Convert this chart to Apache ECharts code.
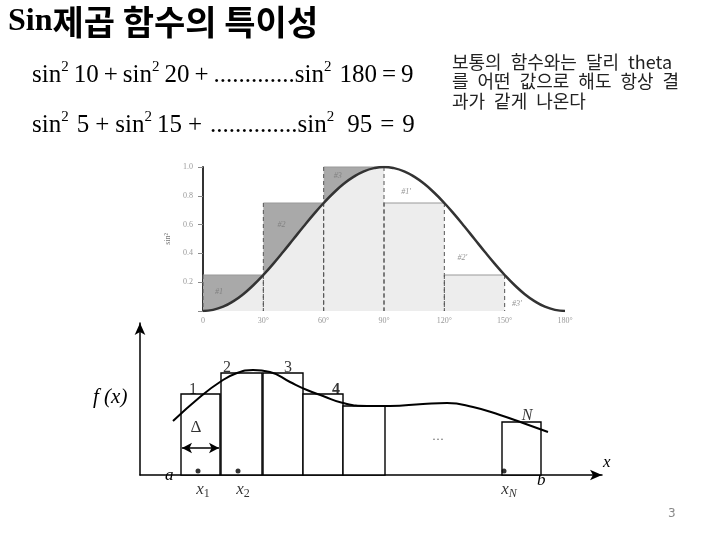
<!DOCTYPE html>
<html>
<head>
<meta charset="utf-8">
<script src="https://cdn.jsdelivr.net/npm/echarts@6/dist/echarts.min.js"></script>
<style>
  html, body { margin: 0; padding: 0; background: #fff; }
  #chart { width: 720px; height: 540px; }
</style>
</head>
<body>
<div id="chart"></div>
<script>
// ---- top picture: sin^2(theta) with rectangles ----
const thetaDeg = [0, 5, 10, 15, 20, 25, 30, 35, 40, 45, 50, 55, 60, 65, 70, 75, 80, 85, 90,
  95, 100, 105, 110, 115, 120, 125, 130, 135, 140, 145, 150, 155, 160, 165, 170, 175, 180]
const sinSq = [0, 0.008, 0.03, 0.067, 0.117, 0.179, 0.25, 0.329, 0.413, 0.5, 0.587, 0.671, 0.75,
  0.821, 0.883, 0.933, 0.97, 0.992, 1, 0.992, 0.97, 0.933, 0.883, 0.821, 0.75, 0.671, 0.587,
  0.5, 0.413, 0.329, 0.25, 0.179, 0.117, 0.067, 0.03, 0.008, 0]
const leftRectStart = [0, 30, 60]
const leftRectEnd = [30, 60, 90]
const leftRectHeight = [0.25, 0.75, 1.0]
const rightRectStart = [90, 120]
const rightRectEnd = [120, 150]
const rightRectHeight = [0.75, 0.25]
const angleTickLabels = ['0', '30°', '60°', '90°', '120°', '150°', '180°']
const valueTickLabels = ['', '0.2', '0.4', '0.6', '0.8', '1.0']
const shadeNames = ['#1', '#2', '#3', "#1'", "#2'", "#3'"]
const shadeX = [8, 39, 67, 101, 129, 156]
const shadeY = [0.13, 0.6, 0.94, 0.83, 0.37, 0.05]

// ---- bottom picture: f(x) with N rectangles ----
const barStart = [4.1, 8.1, 12.3, 16.3, 20.3, 36.2]
const barEnd = [8.0, 12.2, 16.3, 20.3, 24.5, 40.1]
const barHeight = [8.1, 10.2, 10.2, 8.1, 6.9, 5.3]
const curveX = [3.3, 6.0, 8.0, 9.7, 11.3, 13.0, 15.0, 16.7, 18.3, 20.3, 22.7, 25.0, 28.3, 30.7, 33.3, 36.0, 38.3, 40.8]
const curveY = [5.4, 7.8, 9.3, 10.2, 10.5, 10.3, 9.3, 8.5, 7.9, 7.2, 6.9, 6.9, 7.1, 7.2, 6.8, 6.0, 5.2, 4.3]
const barNames = ['1', '2', '3', '4', 'N']
const barNameX = [5.3, 8.7, 14.8, 19.6, 38.7]
const barNameY = [8.5, 10.7, 10.7, 8.5, 5.9]
const sampleNames = ['1', '2', 'N']
const sampleX = [5.8, 9.8, 36.4]
const sampleY = 0.4

const serif = 'Liberation Serif'
const kr = 'Noto Sans CJK KR'
const sp = '\u2002'  // wide space, like the slide's Korean font

function rectFill(fill) {
  return function(params, api) {
    const p0 = api.coord([api.value(0), api.value(2)])
    const p1 = api.coord([api.value(1), 0])
    return {
      type: 'rect',
      shape: { x: p0[0], y: p0[1], width: p1[0] - p0[0], height: p1[1] - p0[1] },
      style: { fill: fill }
    }
  }
}

function rectEdges(params, api) {
  const p0 = api.coord([api.value(0), api.value(2)])
  const p1 = api.coord([api.value(1), 0])
  const dash = { stroke: '#555', lineWidth: 1, lineDash: [4, 3] }
  return {
    type: 'group',
    children: [
      { type: 'line', shape: { x1: p0[0], y1: p0[1], x2: p1[0], y2: p0[1] }, style: { stroke: '#999', lineWidth: 1 } },
      { type: 'line', shape: { x1: p0[0], y1: p0[1], x2: p0[0], y2: p1[1] }, style: dash },
      { type: 'line', shape: { x1: p1[0], y1: p0[1], x2: p1[0], y2: p1[1] }, style: dash }
    ]
  }
}

function barItem(params, api) {
  const p0 = api.coord([api.value(0), api.value(2)])
  const p1 = api.coord([api.value(1), 0])
  return {
    type: 'rect',
    shape: { x: p0[0], y: p0[1], width: p1[0] - p0[0], height: p1[1] - p0[1] },
    style: { fill: '#fff', stroke: '#000', lineWidth: 1.4 }
  }
}

const eqBase = { fontFamily: serif, fontSize: 25, lineHeight: 30, color: '#000' }
function eqPad(l, r) {
  return Object.assign({}, eqBase, { padding: [0, r, 0, l] })
}
const eqRich = {
  t: eqBase,
  s: { fontFamily: serif, fontSize: 15, lineHeight: 16, color: '#000', verticalAlign: 'top' },
  n: eqPad(5, 0),
  w: eqPad(8, 0),
  v: eqPad(13, 0),
  p: eqPad(5, 5),
  q: eqPad(6, 6),
  r: eqPad(8, 8),
  d: eqPad(0, 0),
  e: eqPad(2, 0)
}
const subRich = {
  x: { fontFamily: serif, fontStyle: 'italic', fontSize: 17, lineHeight: 20, color: '#000' },
  s: { fontFamily: serif, fontSize: 12, lineHeight: 12, color: '#000', verticalAlign: 'bottom' },
  i: { fontFamily: serif, fontStyle: 'italic', fontSize: 12, lineHeight: 12, color: '#000', verticalAlign: 'bottom' }
}

const chart = echarts.init(document.getElementById('chart'))
chart.setOption({
  animation: false,
  backgroundColor: '#fff',
  grid: [
    { left: 203, top: 167, width: 362, height: 144 },
    { left: 140, top: 323, width: 462, height: 152 }
  ],
  xAxis: [
    {
      gridIndex: 0, type: 'value', min: 0, max: 180, interval: 30,
      axisLine: { show: false }, axisTick: { show: false }, splitLine: { show: false },
      axisLabel: { color: '#999', fontSize: 8, fontFamily: serif, margin: 6,
        formatter: v => angleTickLabels[Math.round(v / 30)] }
    },
    {
      gridIndex: 1, type: 'value', min: 0, max: 46.2,
      axisLine: { show: true, onZero: true, symbol: ['none', 'arrow'], symbolSize: [8, 12],
        lineStyle: { color: '#000', width: 1.5 } },
      axisTick: { show: false }, axisLabel: { show: false }, splitLine: { show: false }
    }
  ],
  yAxis: [
    {
      gridIndex: 0, type: 'value', min: 0, max: 1, interval: 0.2,
      name: 'sin²', nameLocation: 'middle', nameGap: 26, nameRotate: 90,
      nameTextStyle: { color: '#777', fontSize: 8, fontFamily: serif },
      axisLine: { show: true, lineStyle: { color: '#333', width: 2 } },
      axisTick: { show: true, length: 5, lineStyle: { color: '#888' } },
      splitLine: { show: false },
      axisLabel: { color: '#999', fontSize: 8, fontFamily: serif, margin: 10,
        formatter: v => valueTickLabels[Math.round(v / 0.2)] }
    },
    {
      gridIndex: 1, type: 'value', min: 0, max: 15.2,
      axisLine: { show: true, symbol: ['none', 'arrow'], symbolSize: [8, 12],
        lineStyle: { color: '#000', width: 1.5 } },
      axisTick: { show: false }, axisLabel: { show: false }, splitLine: { show: false }
    }
  ],
  series: [
    // dark shaded rectangles (left half)
    {
      type: 'custom', xAxisIndex: 0, yAxisIndex: 0, z: 1, silent: true,
      renderItem: rectFill('#a9a9a9'),
      data: leftRectStart.map((s, i) => [s, leftRectEnd[i], leftRectHeight[i]])
    },
    // light rectangles (right half)
    {
      type: 'custom', xAxisIndex: 0, yAxisIndex: 0, z: 1, silent: true,
      renderItem: rectFill('#ededed'),
      data: rightRectStart.map((s, i) => [s, rightRectEnd[i], rightRectHeight[i]])
    },
    // light area under the curve, 0..90
    {
      type: 'line', xAxisIndex: 0, yAxisIndex: 0, z: 2, silent: true,
      smooth: true, showSymbol: false, lineStyle: { width: 0 },
      areaStyle: { color: '#ededed', opacity: 1 },
      data: thetaDeg.slice(0, 19).map((t, i) => [t, sinSq[i]])
    },
    // rectangle edges
    {
      type: 'custom', xAxisIndex: 0, yAxisIndex: 0, z: 3, silent: true,
      renderItem: rectEdges,
      data: leftRectStart.concat(rightRectStart).map((s, i) =>
        [s, leftRectEnd.concat(rightRectEnd)[i], leftRectHeight.concat(rightRectHeight)[i]])
    },
    // sin^2 curve
    {
      type: 'line', xAxisIndex: 0, yAxisIndex: 0, z: 4, silent: true,
      smooth: true, showSymbol: false,
      lineStyle: { color: '#333', width: 2.5 },
      data: thetaDeg.map((t, i) => [t, sinSq[i]])
    },
    // shaded region labels
    {
      type: 'scatter', xAxisIndex: 0, yAxisIndex: 0, z: 5, symbolSize: 0, silent: true,
      label: { show: true, position: 'inside', formatter: '{b}', color: '#777',
        fontSize: 8, fontStyle: 'italic', fontFamily: serif },
      data: shadeNames.map((n, i) => ({ name: n, value: [shadeX[i], shadeY[i]] }))
    },
    // bottom rectangles
    {
      type: 'custom', xAxisIndex: 1, yAxisIndex: 1, z: 2, silent: true,
      renderItem: barItem,
      data: barStart.map((s, i) => [s, barEnd[i], barHeight[i]])
    },
    // f(x) curve
    {
      type: 'line', xAxisIndex: 1, yAxisIndex: 1, z: 4, silent: true,
      smooth: true, showSymbol: false,
      lineStyle: { color: '#000', width: 2 },
      data: curveX.map((x, i) => [x, curveY[i]]),
      markLine: {
        silent: true, symbol: ['arrow', 'arrow'], symbolSize: [8, 10],
        label: { show: false },
        lineStyle: { color: '#000', width: 1.5, type: 'solid' },
        data: [[{ coord: [4.2, 2.7] }, { coord: [7.9, 2.7] }]]
      }
    },
    // bar numbers
    {
      type: 'scatter', xAxisIndex: 1, yAxisIndex: 1, z: 5, symbolSize: 0, silent: true,
      label: { show: true, position: 'inside', formatter: '{b}', color: '#000',
        fontSize: 16, fontFamily: serif },
      data: barNames.map((n, i) => ({
        name: n, value: [barNameX[i], barNameY[i]],
        label: n === '4' ? { fontWeight: 'bold' } : (n === 'N' ? { fontStyle: 'italic' } : {})
      })).concat([
        { name: 'Δ', value: [5.6, 4.7], label: { fontSize: 17 } },
        { name: '···', value: [29.8, 3.5], label: { fontSize: 12, color: '#333' } }
      ])
    },
    // sample points x1, x2, xN
    {
      type: 'scatter', xAxisIndex: 1, yAxisIndex: 1, z: 5, symbolSize: 5, silent: true,
      itemStyle: { color: '#000' },
      label: { show: true, position: 'bottom', distance: 6, offset: [5, 0],
        formatter: p => '{x|x}{' + (p.name === 'N' ? 'i' : 's') + '|' + p.name + '}', rich: subRich },
      data: sampleNames.map((n, i) => ({ name: n, value: [sampleX[i], sampleY] }))
    }
  ],
  graphic: [
    {
      type: 'text', x: 8, y: 22,
      style: {
        text: '{a|Sin}{b|제곱 함수의 특이성}', verticalAlign: 'middle',
        rich: {
          a: { fontFamily: serif, fontWeight: 'bold', fontSize: 32, fill: '#000' },
          b: { fontFamily: kr, fontWeight: 'bold', fontSize: 34, fill: '#000' }
        }
      }
    },
    {
      type: 'text', x: 32, y: 75,
      style: {
        text: '{t|sin}{s|2}{n|10}{p|+}{t|sin}{s|2}{n|20}{p|+}{d|.............}{t|sin}{s|2}{w|180}{p|=}{t|9}',
        verticalAlign: 'middle', rich: eqRich
      }
    },
    {
      type: 'text', x: 32, y: 125,
      style: {
        text: '{t|sin}{s|2}{w|5}{q|+}{t|sin}{s|2}{n|15}{q|+}{e|..............}{t|sin}{s|2}{v|95}{r|=}{t|9}',
        verticalAlign: 'middle', rich: eqRich
      }
    },
    {
      type: 'text', x: 452, y: 52,
      style: {
        text: ['보통의', '함수와는', '달리', 'theta'].join(sp) + '\n' +
          ['를', '어떤', '값으로', '해도', '항상', '결'].join(sp) + '\n' +
          ['과가', '같게', '나온다'].join(sp),
        fontFamily: kr, fontSize: 18, lineHeight: 19.5, fill: '#222'
      }
    },
    { type: 'text', x: 93, y: 397, style: { text: 'f (x)', fontFamily: serif, fontStyle: 'italic', fontSize: 21, fill: '#000', verticalAlign: 'middle' } },
    { type: 'text', x: 165, y: 476, style: { text: 'a', fontFamily: serif, fontStyle: 'italic', fontSize: 17, fill: '#000', verticalAlign: 'middle' } },
    { type: 'text', x: 537, y: 481, style: { text: 'b', fontFamily: serif, fontStyle: 'italic', fontSize: 17, fill: '#000', verticalAlign: 'middle' } },
    { type: 'text', x: 603, y: 463, style: { text: 'x', fontFamily: serif, fontStyle: 'italic', fontSize: 17, fill: '#000', verticalAlign: 'middle' } },
    { type: 'text', x: 668, y: 514, style: { text: '3', fontFamily: 'DejaVu Sans', fontSize: 12, fill: '#888', verticalAlign: 'middle' } }
  ]
})
</script>
</body>
</html>
